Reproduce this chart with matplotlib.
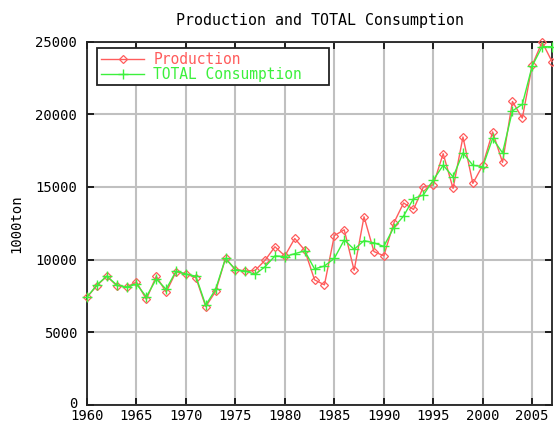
import matplotlib
matplotlib.use("Agg")
import matplotlib.pyplot as plt
from matplotlib.transforms import ScaledTranslation

years = list(range(1960, 2008))
production = [7400, 8200, 8850, 8200, 8100, 8450, 7250, 8850, 7750, 9150,
              9000, 8750, 6750, 7800, 10080, 9300, 9200, 9250, 9950, 10880,
              10250, 11450, 10650, 8600, 8250, 11650, 12050, 9250, 12950, 10550,
              10250, 12500, 13900, 13450, 15000, 15150, 17300, 14900, 18450, 15250,
              16500, 18800, 16700, 20900, 19750, 23400, 25000, 23650]
consumption = [7400, 8250, 8850, 8250, 8100, 8300, 7430, 8650, 7950, 9200,
               9000, 8850, 6850, 7950, 10080, 9300, 9200, 8980, 9500, 10250,
               10200, 10400, 10600, 9350, 9550, 10080, 11350, 10700, 11300, 11150,
               10900, 12200, 13000, 14200, 14450, 15480, 16500, 15700, 17350, 16500,
               16400, 18350, 17350, 20250, 20700, 23350, 24680, 24680]
xticks = [1960, 1965, 1970, 1975, 1980, 1985, 1990, 1995, 2000, 2005]
yticks = [0, 5000, 10000, 15000, 20000, 25000]

plt.rcParams['font.family'] = ['DejaVu Sans Mono']

fig = plt.figure(figsize=(5.54, 4.23), dpi=100)
ax = fig.add_axes([87/554, 1-404.5/423, (552-87)/554, (404.5-42)/423])

red = '#ff5c5c'
green = '#3cf03c'
ax.plot(years, production, color=red, lw=1.0, marker='D', ms=4, mfc='none',
        mec=red, mew=0.9, label='Production', clip_on=False, zorder=3)
ax.plot(years, consumption, color=green, lw=1.0, marker='+', ms=7,
        mew=1.0, label='TOTAL Consumption', clip_on=False, zorder=4)

ax.set_xlim(1960, 2007)
ax.set_ylim(0, 25000)
ax.set_xticks(xticks)
ax.set_yticks(yticks)
ax.set_xticklabels([str(t) for t in xticks], fontsize=10)
ax.set_yticklabels([str(t) for t in yticks], fontsize=10)
ax.grid(True, color='#c0c0c0', lw=1.5)
ax.set_axisbelow(True)
ax.tick_params(direction='in', length=5, width=1.2, top=True, right=True,
               colors='black')
ax.tick_params(axis='x', pad=3.5)
ax.tick_params(axis='y', pad=7)
for s in ax.spines.values():
    s.set_color('#222222')
    s.set_linewidth(1.3)

# nudge the "0" label up a little, as in the reference
zero_lab = ax.yaxis.get_major_ticks()[0].label1
zero_lab.set_transform(zero_lab.get_transform() +
                       ScaledTranslation(0, 2.5/100, fig.dpi_scale_trans))

ax.set_title('Production and TOTAL Consumption', fontsize=10.8, pad=12)
ax.set_ylabel('1000ton', fontsize=10, labelpad=9)

leg = ax.legend(loc='upper left', bbox_to_anchor=(0.0215, 0.0, 0.499, 0.983),
                mode='expand', fontsize=10.5,
                frameon=True, fancybox=False, edgecolor='#222222', framealpha=1,
                handlelength=3.0, handletextpad=0.6, borderpad=0.25,
                labelspacing=0.0, borderaxespad=0)
leg.get_frame().set_linewidth(1.3)
for txt, c in zip(leg.get_texts(), [red, green]):
    txt.set_color(c)

fig.savefig('out.png', dpi=100)
